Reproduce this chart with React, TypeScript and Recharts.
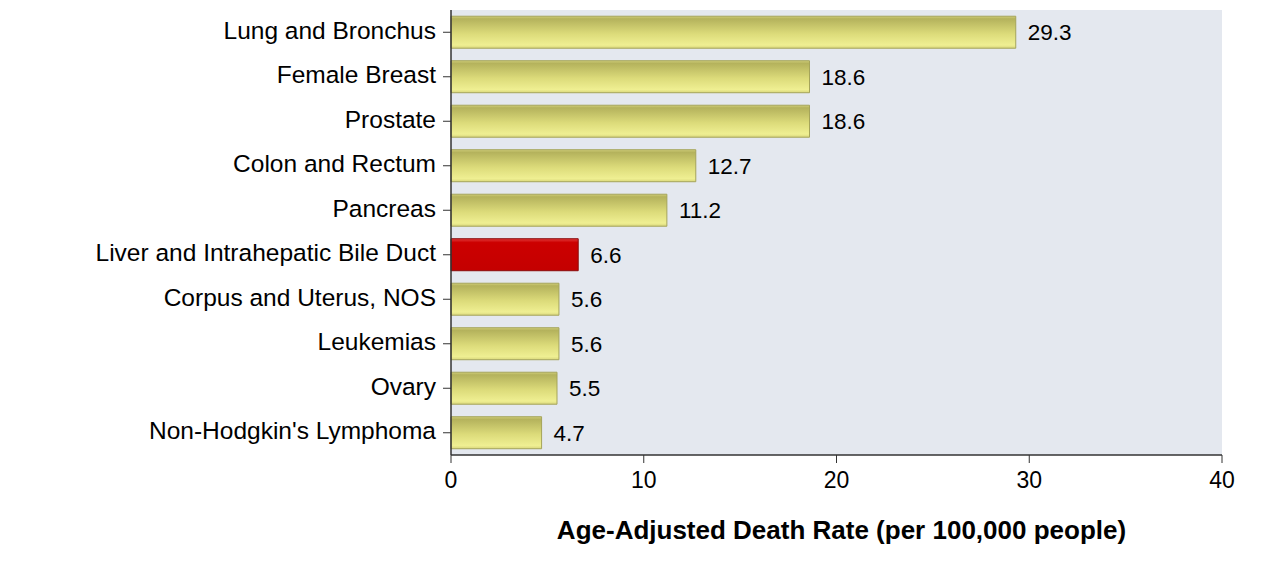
import { BarChart, Bar, XAxis, YAxis, CartesianGrid, LabelList, Cell } from 'recharts';

const sites = [
  'Lung and Bronchus',
  'Female Breast',
  'Prostate',
  'Colon and Rectum',
  'Pancreas',
  'Liver and Intrahepatic Bile Duct',
  'Corpus and Uterus, NOS',
  'Leukemias',
  'Ovary',
  "Non-Hodgkin's Lymphoma",
];
const rates = [29.3, 18.6, 18.6, 12.7, 11.2, 6.6, 5.6, 5.6, 5.5, 4.7];
const highlighted = 'Liver and Intrahepatic Bile Duct';
const xTicks = [0, 10, 20, 30, 40];

const data = sites.map((name, i) => ({ name, rate: rates[i] }));

const font = 'Liberation Sans, Arial, Helvetica, sans-serif';

export default function App() {
  return (
    <div style={{ width: 1264, height: 551, fontFamily: font }}>
      <BarChart
        width={1264}
        height={551}
        data={data}
        layout="vertical"
        margin={{ top: 2, right: 50, left: 0, bottom: 0 }}
        barCategoryGap="14%"
      >
        <defs>
          <linearGradient id="yellowBar" x1="0" y1="0" x2="0" y2="1">
            <stop offset="0%" stopColor="#d2d07a" />
            <stop offset="8%" stopColor="#b4b25c" />
            <stop offset="55%" stopColor="#dcdb7a" />
            <stop offset="90%" stopColor="#efef92" />
            <stop offset="100%" stopColor="#d9d77c" />
          </linearGradient>
          <linearGradient id="redBar" x1="0" y1="0" x2="0" y2="1">
            <stop offset="0%" stopColor="#e23a3a" />
            <stop offset="12%" stopColor="#cc0000" />
            <stop offset="100%" stopColor="#c40000" />
          </linearGradient>
        </defs>
        <CartesianGrid horizontal={false} vertical={false} fill="#e4e8ef" />
        <XAxis
          type="number"
          domain={[0, 40]}
          ticks={xTicks}
          tickSize={8}
          tickMargin={9}
          axisLine={{ stroke: '#333', strokeWidth: 1.5 }}
          tickLine={{ stroke: '#333' }}
          tick={{ fontSize: 23, fill: '#000', fontFamily: font }}
          height={104}
          label={{
            value: 'Age-Adjusted Death Rate (per 100,000 people)',
            position: 'insideBottom',
            offset: 20,
            dx: 5,
            style: { fontSize: 26, fontWeight: 'bold', fill: '#000', fontFamily: font },
          }}
        />
        <XAxis
          xAxisId="top"
          orientation="top"
          type="number"
          domain={[0, 40]}
          height={0}
          tick={false}
          tickLine={false}
          axisLine={{ stroke: '#888', strokeWidth: 2 }}
        />
        <YAxis
          type="category"
          dataKey="name"
          width={443}
          tickSize={8}
          tickMargin={7}
          axisLine={{ stroke: '#333', strokeWidth: 1.5 }}
          tickLine={{ stroke: '#333' }}
          tick={{ fontSize: 24.5, fill: '#000', fontFamily: font, dy: -2 }}
          interval={0}
        />
        <YAxis
          yAxisId="right"
          orientation="right"
          type="category"
          dataKey="name"
          width={0}
          tick={false}
          tickLine={false}
          axisLine={{ stroke: '#555', strokeWidth: 1 }}
        />
        <Bar dataKey="rate" isAnimationActive={false} strokeWidth={1}>
          {data.map((d) => (
            <Cell
              key={d.name}
              fill={d.name === highlighted ? 'url(#redBar)' : 'url(#yellowBar)'}
              stroke={d.name === highlighted ? '#8a0c0c' : '#a5a45a'}
            />
          ))}
          <LabelList
            dataKey="rate"
            position="right"
            offset={12}
            style={{ fontSize: 22.5, fill: '#000', fontFamily: font }}
          />
        </Bar>
      </BarChart>
    </div>
  );
}
